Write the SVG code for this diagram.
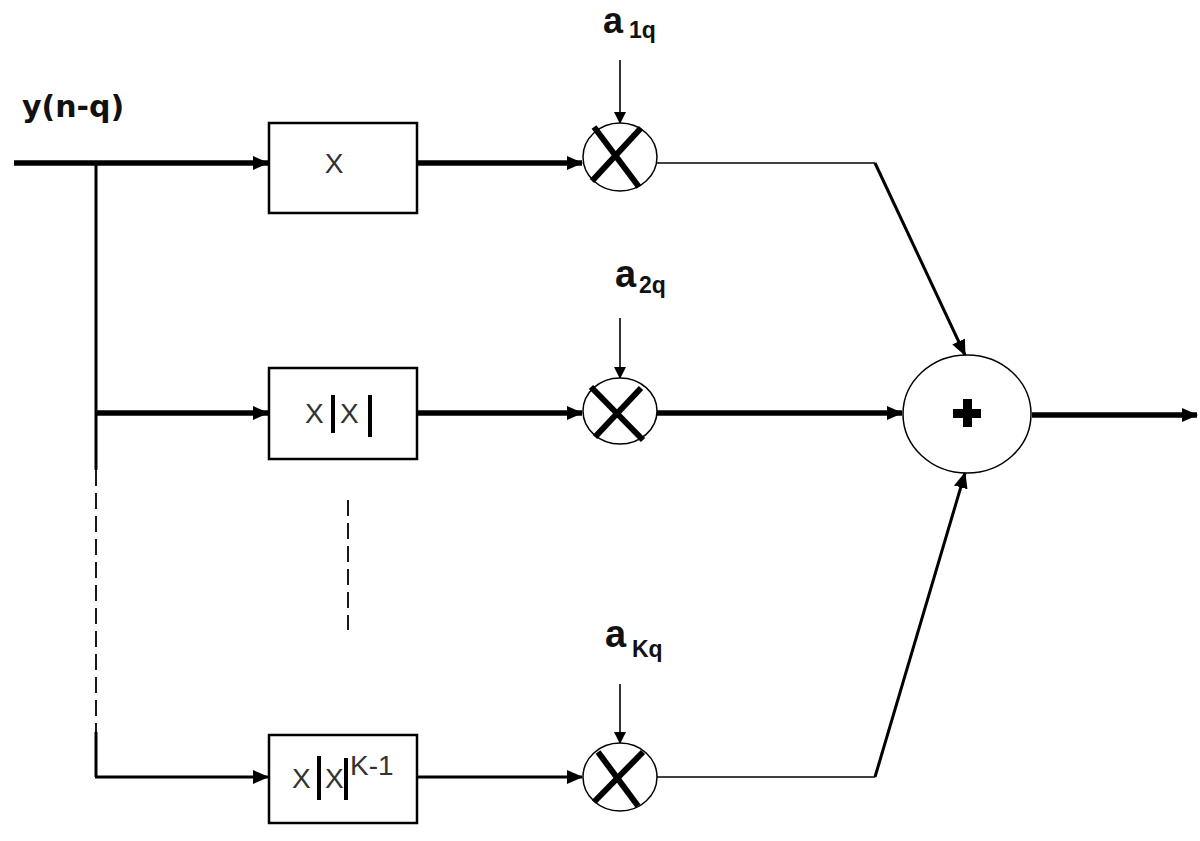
<svg xmlns="http://www.w3.org/2000/svg" width="1200" height="841" viewBox="0 0 1200 841">
<style>
.box{fill:#fff;stroke:#000;stroke-width:2.5}
.circ{fill:#fff;stroke:#000;stroke-width:1.5}
.thick{stroke:#000;stroke-width:5.5;fill:none}
.mid{stroke:#000;stroke-width:3;fill:none}
.thin{stroke:#000;stroke-width:1.6;fill:none}
.dash{stroke:#000;stroke-width:1.8;fill:none;stroke-dasharray:16,7}
.cross{stroke:#000;stroke-width:6;stroke-linecap:butt}
.lbl{font-family:"Liberation Sans",Arial,sans-serif;font-weight:bold;fill:#111}
.sub{font-family:"Liberation Sans",Arial,sans-serif;font-weight:bold;fill:#111;font-size:23px}
.bx{font-family:"Liberation Sans",Arial,sans-serif;fill:#333;font-size:28px}
</style>
<defs>
<marker id="ah" markerUnits="userSpaceOnUse" markerWidth="16" markerHeight="16" viewBox="0 0 16 16" refX="15" refY="8" orient="auto">
<path d="M0,1 L16,8 L0,15 Z" fill="#000"/>
</marker>
<marker id="ahs" markerUnits="userSpaceOnUse" markerWidth="12" markerHeight="12" viewBox="0 0 12 12" refX="11" refY="6" orient="auto">
<path d="M0,0 L12,6 L0,12 Z" fill="#000"/>
</marker>
</defs>

<g id="connectors">
<line class="thick" x1="14" y1="163" x2="268" y2="163" marker-end="url(#ah)"/>
<line class="mid" x1="96" y1="163" x2="96" y2="470"/>
<line class="dash" x1="96" y1="470" x2="96" y2="732"/>
<line class="mid" x1="96" y1="732" x2="96" y2="777"/>
<line class="thick" x1="96" y1="413" x2="268" y2="413" marker-end="url(#ah)"/>
<line class="mid" x1="95" y1="777" x2="268" y2="777" marker-end="url(#ah)"/>
<line class="dash" x1="348" y1="500" x2="348" y2="630"/>
<line class="thick" x1="417" y1="163" x2="582" y2="163" marker-end="url(#ah)"/>
<line class="thick" x1="417" y1="413" x2="582" y2="413" marker-end="url(#ah)"/>
<line class="mid" x1="417" y1="777" x2="582" y2="777" marker-end="url(#ah)"/>
<line class="thin" x1="620" y1="60" x2="620" y2="123" marker-end="url(#ahs)"/>
<line class="thin" x1="620" y1="318" x2="620" y2="378" marker-end="url(#ahs)"/>
<line class="thin" x1="620" y1="684" x2="620" y2="743" marker-end="url(#ahs)"/>
<polyline class="thin" points="657,163 875,163"/>
<line class="mid" x1="875" y1="163" x2="965" y2="355" marker-end="url(#ah)"/>
<line class="thick" x1="657" y1="413" x2="902" y2="413" marker-end="url(#ah)"/>
<polyline class="thin" points="657,777 875,777"/>
<line class="mid" x1="875" y1="777" x2="965" y2="473" marker-end="url(#ah)"/>
<line class="thick" x1="1032" y1="415" x2="1197" y2="415" marker-end="url(#ah)"/>
</g>

<g id="label-input">
<text x="22" y="117" font-family="'DejaVu Sans',Verdana,sans-serif" font-weight="bold" font-size="30" fill="#111">y(n-q)</text>
</g>

<g id="box1">
<rect class="box" x="269" y="123" width="148" height="90"/>
<text class="bx" x="334" y="173" text-anchor="middle">X</text>
</g>
<g id="box2">
<rect class="box" x="269" y="368" width="148" height="91"/>
<text class="bx" x="305" y="423">X</text>
<line x1="333" y1="395" x2="333" y2="433" stroke="#000" stroke-width="4"/>
<text class="bx" x="340" y="423">X</text>
<line x1="370" y1="395" x2="370" y2="437" stroke="#000" stroke-width="4"/>
</g>
<g id="box3">
<rect class="box" x="269" y="735" width="148" height="88"/>
<text class="bx" x="292" y="788">X</text>
<line x1="319" y1="756" x2="319" y2="800" stroke="#000" stroke-width="4"/>
<text class="bx" x="325" y="788">X</text>
<line x1="346" y1="758" x2="346" y2="800" stroke="#000" stroke-width="4"/>
<text class="bx" x="350" y="775" font-size="16">K-1</text>
</g>

<g id="mult1">
<ellipse class="circ" cx="620" cy="157" rx="37" ry="34"/>
<line class="cross" x1="594" y1="127" x2="639" y2="187"/>
<line class="cross" x1="641" y1="128" x2="592" y2="181"/>
</g>
<g id="mult2">
<ellipse class="circ" cx="620" cy="411" rx="37" ry="33"/>
<line class="cross" x1="591" y1="387" x2="643" y2="440"/>
<line class="cross" x1="641" y1="388" x2="595" y2="437"/>
</g>
<g id="mult3">
<ellipse class="circ" cx="620" cy="777" rx="37" ry="34"/>
<line class="cross" x1="598" y1="752" x2="638" y2="806"/>
<line class="cross" x1="643" y1="752" x2="594" y2="802"/>
</g>

<g id="label-a1q">
<text class="lbl" x="603" y="33" font-size="36">a<tspan class="sub" x="629" y="38">1q</tspan></text>
</g>
<g id="label-a2q">
<text class="lbl" x="615" y="287" font-size="38">a<tspan class="sub" x="639" y="293">2q</tspan></text>
</g>
<g id="label-aKq">
<text class="lbl" x="605" y="647" font-size="38">a<tspan class="sub" x="632" y="657">Kq</tspan></text>
</g>

<g id="sum">
<ellipse class="circ" cx="967" cy="414" rx="64" ry="59"/>
<rect x="953" y="409" width="28" height="9" fill="#000"/>
<rect x="963" y="399" width="9" height="28" fill="#000"/>
</g>
</svg>
